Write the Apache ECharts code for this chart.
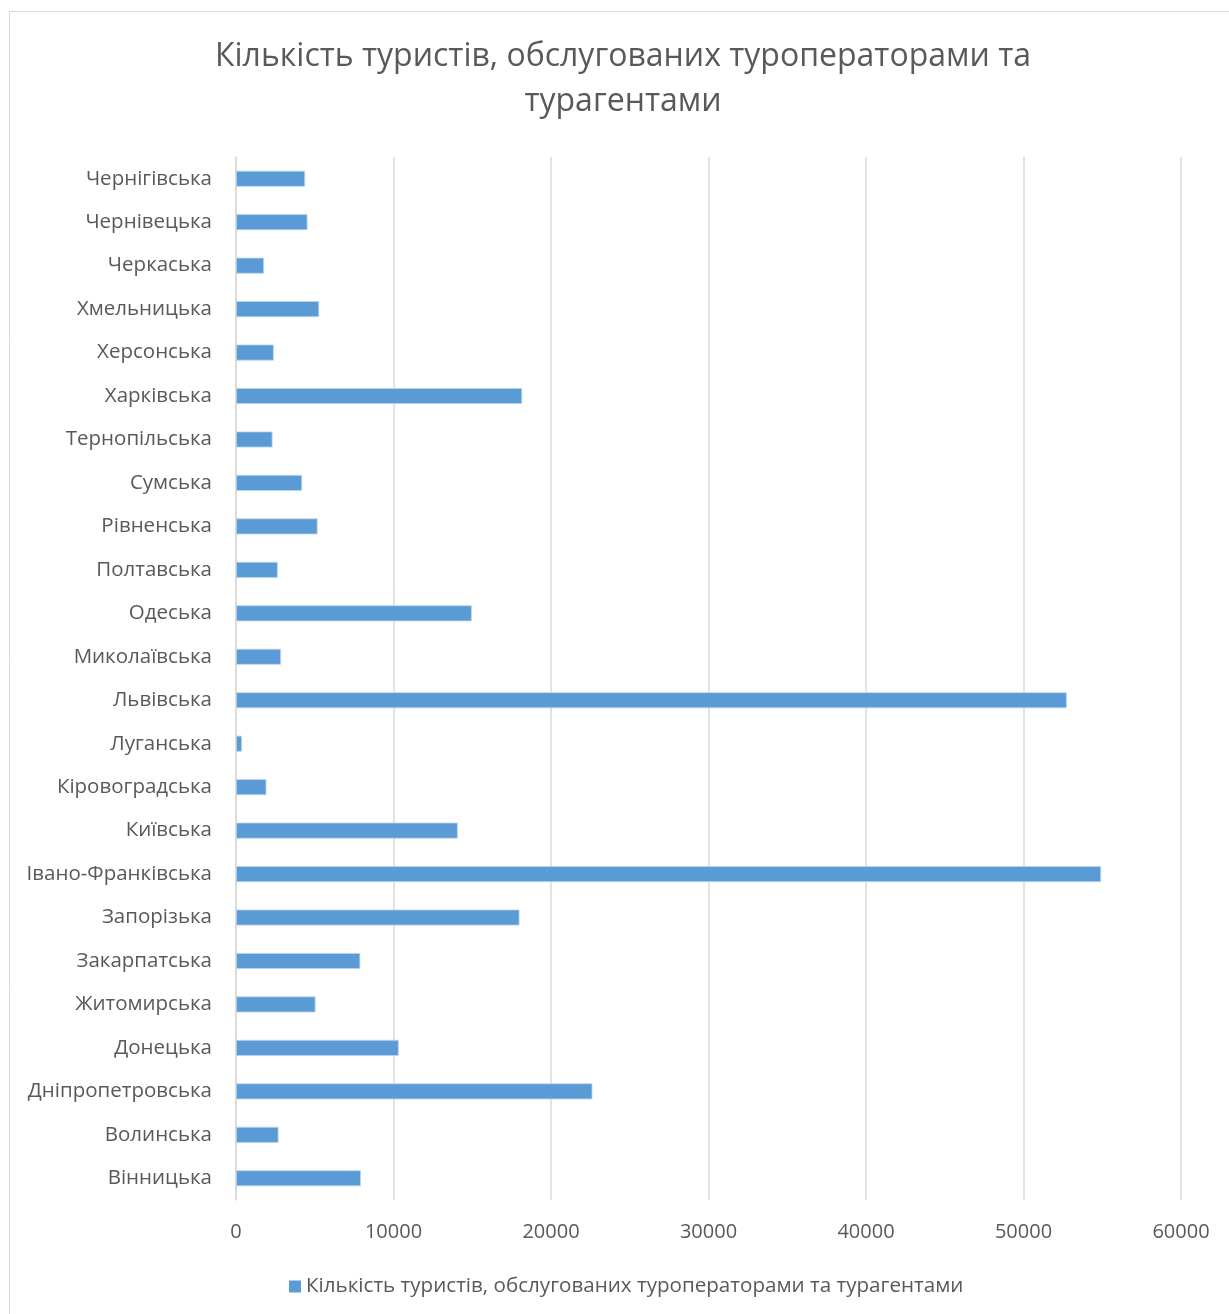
<!DOCTYPE html>
<html>
<head>
<meta charset="utf-8">
<script src="https://cdn.jsdelivr.net/npm/echarts@6/dist/echarts.min.js"></script>
<style>
html,body{margin:0;padding:0;background:#fff;}
#chart{width:1229px;height:1314px;}
</style>
</head>
<body>
<div id="chart"></div>
<script>
const titleLines = ['Кількість туристів, обслугованих туроператорами та', 'турагентами'];
const seriesName = 'Кількість туристів, обслугованих туроператорами та турагентами';
const categories = ['Вінницька','Волинська','Дніпропетровська','Донецька','Житомирська','Закарпатська','Запорізька','Івано-Франківська','Київська','Кіровоградська','Луганська','Львівська','Миколаївська','Одеська','Полтавська','Рівненська','Сумська','Тернопільська','Харківська','Херсонська','Хмельницька','Черкаська','Чернівецька','Чернігівська'];
const values = [7930,2700,22630,10330,5050,7890,18000,54930,14080,1930,380,52750,2860,14970,2650,5180,4200,2320,18170,2400,5280,1780,4540,4390];
const xTicks = [0,10000,20000,30000,40000,50000,60000];

const FONT = '"Open Sans", "Noto Sans", sans-serif';
const chart = echarts.init(document.getElementById('chart'), null, {renderer:'canvas'});
chart.setOption({
  backgroundColor:'#fff',
  animation:false,
  graphic:[
    {type:'rect', shape:{x:9.5,y:11.5,width:1240,height:1320}, style:{fill:'none',stroke:'#D9D9D9',lineWidth:1}, silent:true},
    {type:'text', x:623, y:57, style:{text:titleLines[0], font:'32px '+FONT, fill:'#595959', align:'center', verticalAlign:'middle'}},
    {type:'text', x:623, y:102, style:{text:titleLines[1], font:'32px '+FONT, fill:'#595959', align:'center', verticalAlign:'middle'}}
  ],
  legend:{
    data:[seriesName], left:284, top:1271, icon:'rect', itemWidth:12, itemHeight:12, itemGap:10,
    itemStyle:{borderWidth:0},
    textStyle:{color:'#595959', fontSize:20.6, fontFamily:FONT}
  },
  grid:{left:236, right:48, top:157, bottom:114, containLabel:false},
  xAxis:{
    type:'value', min:0, max:60000, interval:10000,
    axisLine:{show:false}, axisTick:{show:false},
    splitLine:{show:true, lineStyle:{color:'#D9D9D9', width:1.5}},
    axisLabel:{color:'#595959', fontSize:20, fontFamily:FONT, margin:22,
      formatter: v => String(v)}
  },
  yAxis:{
    type:'category', data:categories,
    axisLine:{show:true, lineStyle:{color:'#D9D9D9', width:1.5}},
    axisTick:{show:false},
    axisLabel:{color:'#595959', fontSize:20.5, fontFamily:FONT, margin:24}
  },
  series:[{
    name:seriesName, type:'bar', data:values, barWidth:16,
    itemStyle:{color:'#5B9BD5', borderColor:'#BDD7EE', borderWidth:0.8}
  }]
});
</script>
</body>
</html>
